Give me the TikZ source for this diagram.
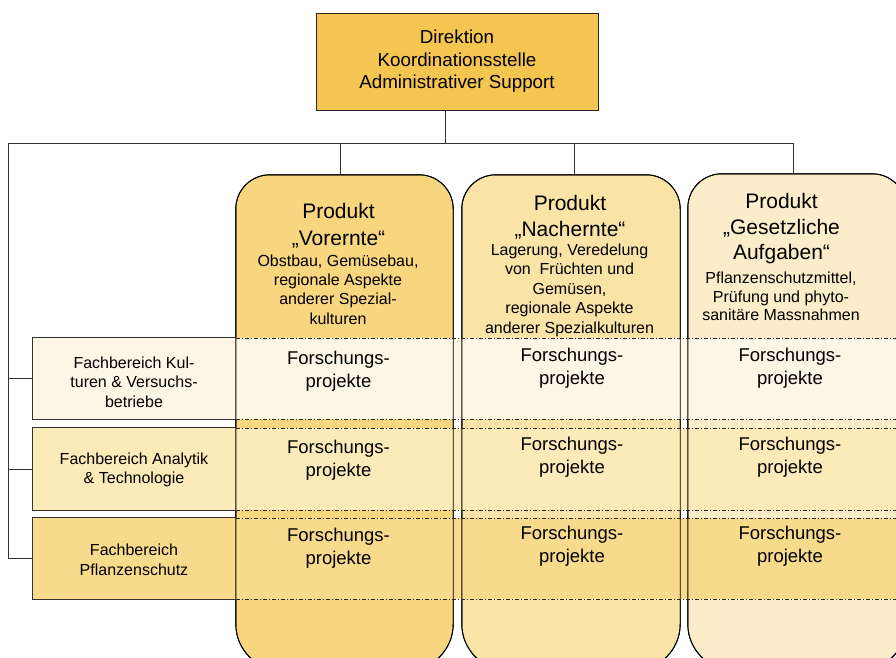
\documentclass[tikz,border=0pt]{standalone}
\usepackage{fontspec}
\setmainfont{Liberation Sans}
\definecolor{topfill}{RGB}{245,197,81}
\definecolor{cone}{RGB}{248,213,127}
\definecolor{ctwo}{RGB}{249,227,167}
\definecolor{cthree}{RGB}{251,237,201}
\definecolor{rone}{RGB}{253,246,230}
\definecolor{rtwo}{RGB}{252,234,185}
\definecolor{rthree}{RGB}{248,218,140}
\begin{document}
\begin{tikzpicture}[x=1pt,y=-1pt,
  conn/.style={draw=black!80, line width=0.9pt},
  colbox/.style={inner sep=0pt},
  colline/.style={draw=black, line width=0.9pt},
  dd/.style={draw=black!85, line width=0.8pt, dash pattern=on 4pt off 2pt on 1pt off 2pt},
  fbline/.style={draw=black!80, line width=0.9pt},
  txt/.style={align=center, inner sep=0pt},
  ttl/.style={txt, font=\fontsize{21}{26.5}\selectfont},
  sub/.style={txt, font=\fontsize{16}{19.2}\selectfont},
  fp/.style={txt, font=\fontsize{18.5}{23}\selectfont},
  fbt/.style={txt, font=\fontsize{16}{19.5}\selectfont}
]
\useasboundingbox (0,0) rectangle (896,657);
\clip (0,0) rectangle (896,657);

% top box
\node[draw=black!85, fill=topfill, line width=0.9pt, minimum width=282pt, minimum height=97pt,
      inner sep=0pt, align=center, font=\fontsize{18.8}{22.5}\selectfont] (dir) at (457,61.5)
      {Direktion\\Koordinationsstelle\\Administrativer Support};

% columns (outline nodes; drawn as paths below)
\node[colbox, minimum width=217pt, minimum height=495pt] (col1) at (344.5,422.5) {};
\node[colbox, minimum width=218pt, minimum height=495pt] (col2) at (571,422.5) {};
\node[colbox, minimum width=218pt, minimum height=496pt] (col3) at (797,422) {};

\path[colline, fill=cone] (col1.west) [rounded corners=34pt] -- (col1.north west) -- (col1.north east) -- (col1.east)
   [rounded corners=46pt] -- (col1.south east) -- (col1.south west) -- (col1.west) [sharp corners] -- cycle;
\path[colline, fill=ctwo] (col2.west) [rounded corners=34pt] -- (col2.north west) -- (col2.north east) -- (col2.east)
   [rounded corners=46pt] -- (col2.south east) -- (col2.south west) -- (col2.west) [sharp corners] -- cycle;
\path[colline, fill=cthree] (col3.west) [rounded corners=34pt] -- (col3.north west) -- (col3.north east) -- (col3.east)
   [rounded corners=46pt] -- (col3.south east) -- (col3.south west) -- (col3.west) [sharp corners] -- cycle;

% Fachbereich boxes (fill only) and row bands
\node[fill=rone, minimum width=203pt, minimum height=81pt, inner sep=0pt] (fb1) at (134.5,378.5) {};
\node[fill=rtwo, minimum width=203pt, minimum height=82pt, inner sep=0pt] (fb2) at (134.5,469) {};
\node[fill=rthree, minimum width=203pt, minimum height=81pt, inner sep=0pt] (fb3) at (134.5,558.5) {};
\fill[rone] (236,338) rectangle (900,419);
\fill[rtwo] (236,428) rectangle (900,510);
\fill[rthree] (236,518) rectangle (900,599);

% column borders again on top of the bands
\draw[colline] (col1.west) [rounded corners=34pt] -- (col1.north west) -- (col1.north east) -- (col1.east)
   [rounded corners=46pt] -- (col1.south east) -- (col1.south west) -- (col1.west) [sharp corners] -- cycle;
\draw[colline] (col2.west) [rounded corners=34pt] -- (col2.north west) -- (col2.north east) -- (col2.east)
   [rounded corners=46pt] -- (col2.south east) -- (col2.south west) -- (col2.west) [sharp corners] -- cycle;
\draw[colline] (col3.west) [rounded corners=34pt] -- (col3.north west) -- (col3.north east) -- (col3.east)
   [rounded corners=46pt] -- (col3.south east) -- (col3.south west) -- (col3.west) [sharp corners] -- cycle;

% dash-dot lines
\draw[dd] (236,338) -- (900,338);
\draw[dd] (236,419) -- (900,419);
\draw[dd] (236,428) -- (900,428);
\draw[dd] (236,510) -- (900,510);
\draw[dd] (236,518) -- (900,518);
\draw[dd] (236,599) -- (900,599);

% Fachbereich borders
\draw[fbline] (col1.west |- fb1.north) -- (fb1.north west) -- (fb1.south west) -- (col1.west |- fb1.south);
\draw[fbline] (col1.west |- fb2.north) -- (fb2.north west) -- (fb2.south west) -- (col1.west |- fb2.south);
\draw[fbline] (col1.west |- fb3.north) -- (fb3.north west) -- (fb3.south west) -- (col1.west |- fb3.south);

% connectors
\coordinate (hub) at (445,143);
\coordinate (lft) at (8,143);
\coordinate (rgt) at (793,143);
\coordinate (d1) at (340,143);
\coordinate (d2) at (574,143);
\draw[conn] (dir.south -| hub) -- (hub);
\draw[conn] (lft) -- (rgt);
\draw[conn] (d1) -- (d1 |- col1.north);
\draw[conn] (d2) -- (d2 |- col2.north);
\draw[conn] (rgt) -- (rgt |- col3.north);
\draw[conn] (lft) -- (lft |- fb3.west) -- (fb3.west);
\draw[conn] (lft |- fb1.west) -- (fb1.west);
\draw[conn] (lft |- fb2.west) -- (fb2.west);

% header texts
\node[ttl] (t1) at (338.5,225.5) {Produkt\\„Vorernte“};
\node[sub] (s1) at (338,289.5) {Obstbau, Gemüsebau,\\regionale Aspekte\\anderer Spezial-\\kulturen};
\node[ttl] (t2) at (570,217) {Produkt\\„Nachernte“};
\node[sub, font=\fontsize{16}{19.5}\selectfont] (s2) at (569.5,290) {Lagerung, Veredelung\\von\ \ Früchten und\\Gemüsen,\\regionale Aspekte\\anderer Spezialkulturen};
\node[ttl, font=\fontsize{21}{25.5}\selectfont] (t3) at (781.5,229) {Produkt\\„Gesetzliche\\Aufgaben“};
\node[sub, font=\fontsize{16}{18.6}\selectfont] (s3) at (781,296.5) {Pflanzenschutzmittel,\\Prüfung und phyto-\\sanitäre Massnahmen};

% Forschungsprojekte
\node[fp] (p11) at (338.5,371.5) {Forschungs-\\projekte};
\node[fp] (p12) at (338.5,460) {Forschungs-\\projekte};
\node[fp] (p13) at (338.5,548) {Forschungs-\\projekte};
\node[fp] (p21) at (572,368) {Forschungs-\\projekte};
\node[fp] (p22) at (572,457) {Forschungs-\\projekte};
\node[fp] (p23) at (572,546) {Forschungs-\\projekte};
\node[fp] (p31) at (790,368) {Forschungs-\\projekte};
\node[fp] (p32) at (790,457) {Forschungs-\\projekte};
\node[fp] (p33) at (790,546) {Forschungs-\\projekte};

% Fachbereich texts
\node[fbt] (f1) at (134,382) {Fachbereich Kul-\\turen \& Versuchs-\\betriebe};
\node[fbt] (f2) at (134,470) {Fachbereich Analytik\\\& Technologie};
\node[fbt] (f3) at (134,560) {Fachbereich\\Pflanzenschutz};
\end{tikzpicture}
\end{document}
